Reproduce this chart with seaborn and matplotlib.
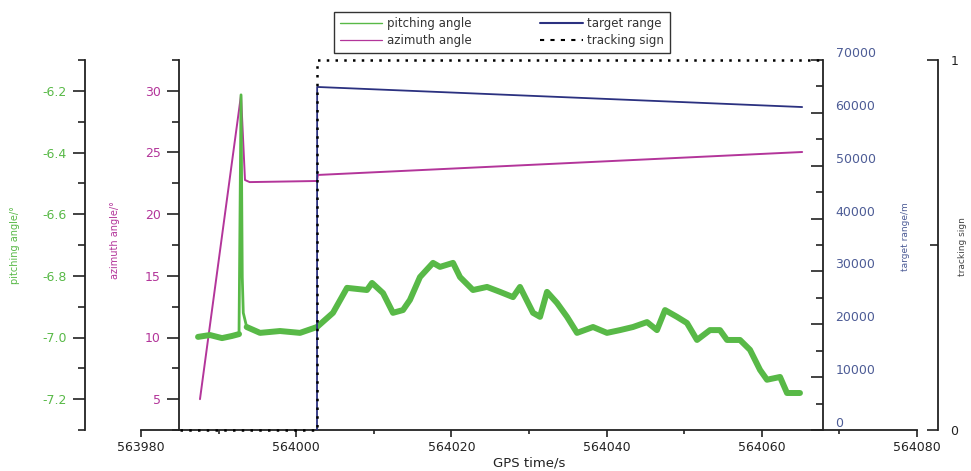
import pandas as pd
import matplotlib.pyplot as plt
import matplotlib.ticker as mticker
from matplotlib.lines import Line2D
import seaborn as sns

# values
pitch_time = [563987.35, 563988.89, 563990.44, 563991.73, 563992.63, 563992.89, 563993.05,
              563993.18, 563993.62, 563995.34, 563997.91, 564000.49, 564002.68, 564004.74,
              564006.55, 564009.12, 564009.77, 564011.19, 564012.47, 564013.76, 564014.66,
              564015.95, 564017.63, 564018.53, 564020.21, 564021.11, 564022.78, 564024.59,
              564026.26, 564027.94, 564028.84, 564030.52, 564031.42, 564032.32, 564033.61,
              564034.90, 564036.19, 564038.25, 564040.05, 564041.73, 564043.40, 564045.21,
              564046.49, 564047.53, 564049.07, 564050.36, 564051.65, 564053.32, 564054.61,
              564055.52, 564057.19, 564058.48, 564059.77, 564060.67, 564062.35, 564063.25,
              564064.92]
pitch_angle = [-6.998, -6.992, -7.002, -6.995, -6.989, -6.213, -6.804, -6.920, -6.966, -6.985,
               -6.979, -6.985, -6.966, -6.920, -6.839, -6.846, -6.823, -6.856, -6.920, -6.911,
               -6.878, -6.804, -6.758, -6.771, -6.758, -6.804, -6.846, -6.836, -6.852, -6.869,
               -6.836, -6.920, -6.933, -6.852, -6.888, -6.933, -6.985, -6.966, -6.985, -6.976,
               -6.966, -6.950, -6.976, -6.911, -6.933, -6.953, -7.008, -6.976, -6.976, -7.008,
               -7.008, -7.040, -7.105, -7.137, -7.128, -7.180, -7.180]

azimuth_time = [563987.6, 563992.89, 563993.4, 563994.0, 564002.68, 564002.8, 564065.2]
azimuth_angle = [5.0, 29.66, 22.77, 22.6, 22.69, 23.18, 25.04]

range_time = [564002.68, 564002.70, 564065.2]
target_range = [0, 64900, 61100]

track_time = [563985.0, 564002.68, 564002.68, 564068.0]
track_sign = [0, 0, 1, 1]

legend_labels = ["pitching angle", "azimuth angle", "target range", "tracking sign"]

green = "#58b947"
magenta = "#b3359a"
navy = "#2b3180"
range_txt = "#4d5c96"

sns.set_style("ticks")
plt.rcParams['font.family'] = ['DejaVu Sans']

W, H = 971, 471
fig = plt.figure(figsize=(W / 100, H / 100), dpi=100)
ax = fig.add_axes([141 / W, 41 / H, 776 / W, 370 / H])
pitch_ax = ax.twinx()
range_ax = ax.twinx()
track_ax = ax.twinx()

pitch = pd.DataFrame({"t": pitch_time, "v": pitch_angle})

sns.lineplot(x=azimuth_time, y=azimuth_angle, ax=ax, color=magenta, lw=1.4,
             estimator=None, sort=False)
# noisy band before / after the spike, thin line for the spike itself
sns.lineplot(data=pitch.iloc[:5], x="t", y="v", ax=pitch_ax, color=green, lw=4.3,
             estimator=None, sort=False)
sns.lineplot(data=pitch.iloc[4:9], x="t", y="v", ax=pitch_ax, color=green, lw=2,
             estimator=None, sort=False)
sns.lineplot(data=pitch.iloc[8:], x="t", y="v", ax=pitch_ax, color=green, lw=4.3,
             estimator=None, sort=False)
sns.lineplot(x=range_time, y=target_range, ax=range_ax, color=navy, lw=1.3,
             estimator=None, sort=False)
sns.lineplot(x=track_time, y=track_sign, ax=track_ax, color="black", lw=1.8,
             linestyle=(0, (1, 2.5)), estimator=None, sort=False, clip_on=False)

# spines
ax.spines[['top', 'right']].set_visible(False)
ax.spines['left'].set_position(('axes', 38 / 776))
for a in (pitch_ax, range_ax, track_ax):
    a.spines[['top', 'bottom', 'left', 'right']].set_visible(False)
pitch_ax.spines['left'].set_visible(True)
pitch_ax.spines['left'].set_position(('axes', -56 / 776))
pitch_ax.yaxis.tick_left()
range_ax.spines['right'].set_visible(True)
range_ax.spines['right'].set_position(('axes', 682 / 776))
track_ax.spines['right'].set_visible(True)
track_ax.spines['right'].set_position(('axes', 797 / 776))
for a in (ax, pitch_ax, range_ax, track_ax):
    for s in a.spines.values():
        s.set_linewidth(1.3)
        s.set_color("#222222")
    a.set_ylabel("")
    a.set_xlabel("")

# x axis
ax.set_xlim(563980, 564080)
ax.xaxis.set_major_locator(mticker.MultipleLocator(20))
ax.xaxis.set_minor_locator(mticker.MultipleLocator(10))
ax.xaxis.set_major_formatter(mticker.FormatStrFormatter('%d'))
ax.tick_params(axis='x', which='major', direction='out', length=5, width=1.2,
               labelsize=9, colors='#222222', pad=3)
ax.tick_params(axis='x', which='minor', direction='out', length=3, width=1.2, colors='#222222')
ax.set_xlabel("GPS time/s", fontsize=9.5, color='#222222', labelpad=2)

# azimuth
ax.set_ylim(2.5, 32.5)
ax.yaxis.set_major_locator(mticker.MultipleLocator(5))
ax.yaxis.set_minor_locator(mticker.MultipleLocator(2.5))
ax.yaxis.set_major_formatter(mticker.FormatStrFormatter('%d'))
ax.tick_params(axis='y', which='major', direction='out', length=9, width=1.2,
               labelsize=9, labelcolor=magenta, color='#222222', pad=4)
ax.tick_params(axis='y', which='minor', direction='out', length=5, width=1.2, color='#222222')

# pitching
pitch_ax.set_ylim(-7.3, -6.1)
pitch_ax.yaxis.set_major_locator(mticker.MultipleLocator(0.2))
pitch_ax.yaxis.set_minor_locator(mticker.MultipleLocator(0.1))
pitch_ax.yaxis.set_major_formatter(mticker.FormatStrFormatter('%.1f'))
pitch_ax.tick_params(axis='y', which='major', direction='out', length=9, width=1.2,
                     labelsize=9, labelcolor=green, color='#222222', pad=4)
pitch_ax.tick_params(axis='y', which='minor', direction='out', length=5, width=1.2, color='#222222')

# target range
range_ax.set_ylim(0, 70000)
range_ax.yaxis.set_major_locator(mticker.MultipleLocator(10000))
range_ax.yaxis.set_minor_locator(mticker.MultipleLocator(5000))
range_ax.yaxis.set_major_formatter(mticker.FormatStrFormatter('%d'))
range_ax.tick_params(axis='y', which='major', direction='in', length=9, width=1.2,
                     labelsize=9, labelcolor=range_txt, color='#222222', pad=9)
range_ax.tick_params(axis='y', which='minor', direction='in', length=5, width=1.2, color='#222222')
plt.setp(range_ax.get_yticklabels(), va='bottom')

# tracking sign
track_ax.set_ylim(0, 1)
track_ax.yaxis.set_major_locator(mticker.FixedLocator([0, 1]))
track_ax.yaxis.set_minor_locator(mticker.FixedLocator([0.5]))
track_ax.yaxis.set_major_formatter(mticker.FormatStrFormatter('%d'))
track_ax.tick_params(axis='y', which='major', direction='in', length=8, width=1.2,
                     labelsize=9, labelcolor='#222222', color='#222222', pad=9)
track_ax.tick_params(axis='y', which='minor', direction='in', length=5.5, width=1.2, color='#222222')

# axis titles
fig.text(15 / W, 1 - 245 / H, "pitching angle/°", rotation=90, ha='center', va='center',
         fontsize=7, color=green)
fig.text(115 / W, 1 - 240 / H, "azimuth angle/°", rotation=90, ha='center', va='center',
         fontsize=7, color=magenta)
fig.text(905 / W, 1 - 237 / H, "target range/m", rotation=90, ha='center', va='center',
         fontsize=6.5, color=range_txt)
fig.text(962 / W, 1 - 247 / H, "tracking sign", rotation=90, ha='center', va='center',
         fontsize=6.5, color='#444444')

# legend
handles = [Line2D([], [], color=green, lw=1.0),
           Line2D([], [], color=magenta, lw=0.9),
           Line2D([], [], color=navy, lw=1.5),
           Line2D([], [], color='black', lw=1.5, ls=(0, (2, 3)))]
leg = fig.legend(handles, legend_labels, ncol=2, loc='upper center',
                 bbox_to_anchor=(502 / W, 1 - 12 / H), frameon=True, fancybox=False,
                 edgecolor='black', fontsize=8.5, handlelength=3.6, handletextpad=0.4,
                 columnspacing=5.8, labelspacing=0.35, borderpad=0.45, borderaxespad=0)
leg.get_frame().set_linewidth(1.0)
for t in leg.get_texts():
    t.set_color('#333333')

fig.savefig("out.png", dpi=100)
